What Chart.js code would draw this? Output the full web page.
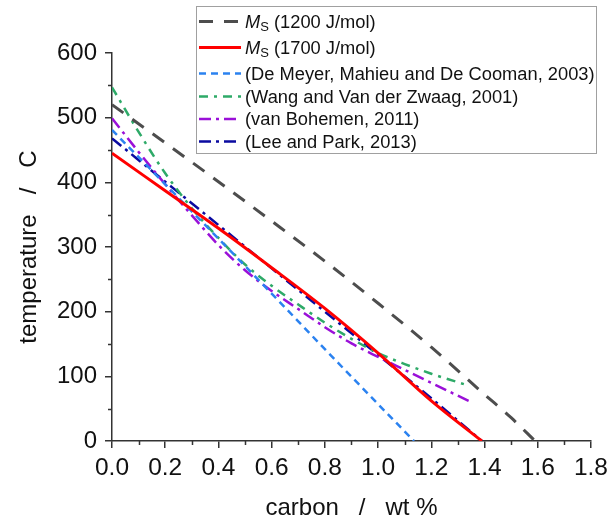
<!DOCTYPE html>
<html>
<head>
<meta charset="utf-8">
<script src="https://cdn.jsdelivr.net/npm/chart.js@4.4.1/dist/chart.umd.min.js"></script>
<style>
  html, body { margin: 0; padding: 0; background: #fff; }
  #wrap { width: 614px; height: 523px; }
</style>
</head>
<body>
<div id="wrap"><canvas id="chart" width="614" height="523"></canvas></div>
<script>
  'use strict';

  // carbon (wt %) / temperature (C)
  const ms1200C = [0, 0.2, 0.4, 0.6, 0.8, 1.0, 1.2, 1.4, 1.5, 1.59];
  const ms1200T = [520, 461, 401, 340, 278, 213, 145, 72, 36, 0];

  const ms1700C = [0, 0.2, 0.4, 0.6, 0.8, 1.0, 1.2, 1.39];
  const ms1700T = [445, 387, 329, 268, 205, 136, 62, 0];

  const deMeyerC = [0, 0.2, 0.4, 0.6, 0.8, 1.0, 1.135];
  const deMeyerT = [481, 397, 313, 228, 142, 57, 0];

  const wangC = [0, 0.1, 0.2, 0.3, 0.4, 0.5, 0.6, 0.7, 0.8, 0.9, 1.0, 1.1, 1.2, 1.33];
  const wangT = [547, 478, 414, 360, 314, 273, 240, 211, 183, 158, 136, 119, 104, 87];

  const bohemenC = [0, 0.1, 0.2, 0.3, 0.4, 0.5, 0.6, 0.7, 0.8, 0.9, 1.0, 1.1, 1.2, 1.34];
  const bohemenT = [499, 447, 397, 349, 303, 264, 232, 204, 176, 151, 130, 110, 90, 62];

  const leeParkC = [0, 0.2, 0.4, 0.6, 0.8, 1.0, 1.2, 1.39];
  const leeParkT = [468, 401, 334, 267, 200, 133, 66, 0];

  const seriesLabels = [
    'M_S (1200 J/mol)',
    'M_S (1700 J/mol)',
    '(De Meyer, Mahieu and De Cooman, 2003)',
    '(Wang and Van der Zwaag, 2001)',
    '(van Bohemen, 2011)',
    '(Lee and Park, 2013)'
  ];

  const xMinorTicks = [0.1, 0.3, 0.5, 0.7, 0.9, 1.1, 1.3, 1.5, 1.7];
  const yMinorTicks = [50, 150, 250, 350, 450, 550];

  const FONT = "'Liberation Sans', Arial, sans-serif";
  const AXIS_COLOR = '#333333';
  const TEXT_COLOR = '#111111';

  const pairs = (xs, ys) => xs.map((x, i) => ({ x, y: ys[i] }));

  function line(label, xs, ys, color, width, dash) {
    return {
      label,
      data: pairs(xs, ys),
      borderColor: color,
      backgroundColor: color,
      borderWidth: width,
      borderDash: dash,
      borderCapStyle: 'butt',
      pointRadius: 0,
      fill: false,
      cubicInterpolationMode: 'monotone'
    };
  }

  const datasets = [
    line(seriesLabels[0], ms1200C, ms1200T, '#4d4d4d', 3, [14, 11]),
    line(seriesLabels[1], ms1700C, ms1700T, '#ff0000', 3, []),
    line(seriesLabels[2], deMeyerC, deMeyerT, '#2b82f0', 2.5, [7, 5]),
    line(seriesLabels[3], wangC, wangT, '#2eaa68', 2.5, [9, 6, 3, 6]),
    line(seriesLabels[4], bohemenC, bohemenT, '#9a10d8', 2.5, [12, 5, 3, 5]),
    line(seriesLabels[5], leeParkC, leeParkT, '#0a0aa0', 2.5, [12, 5, 3, 5])
  ];

  // minor tick marks (outward, shorter than the major ones)
  const minorTicks = {
    id: 'minorTicks',
    afterDraw(chart) {
      const { ctx, chartArea } = chart;
      const { x, y } = chart.scales;
      ctx.save();
      ctx.strokeStyle = AXIS_COLOR;
      ctx.lineWidth = 1.5;
      ctx.beginPath();
      xMinorTicks.forEach(v => {
        const px = Math.round(x.getPixelForValue(v)) + 0.5;
        ctx.moveTo(px, chartArea.bottom);
        ctx.lineTo(px, chartArea.bottom + 4);
      });
      yMinorTicks.forEach(v => {
        const py = Math.round(y.getPixelForValue(v)) + 0.5;
        ctx.moveTo(chartArea.left, py);
        ctx.lineTo(chartArea.left - 4, py);
      });
      ctx.stroke();
      ctx.restore();
    }
  };

  // boxed legend with the M_S subscript
  const boxLegend = {
    id: 'boxLegend',
    afterDraw(chart) {
      const { ctx } = chart;
      const box = { left: 196.5, top: 6.5, right: 596.5, bottom: 153.5 };
      const rows = [21.5, 47.5, 73.5, 96.5, 119, 141.5];
      ctx.save();
      ctx.fillStyle = '#ffffff';
      ctx.fillRect(box.left, box.top, box.right - box.left, box.bottom - box.top);
      ctx.strokeStyle = '#a0a0a0';
      ctx.lineWidth = 1;
      ctx.strokeRect(box.left, box.top, box.right - box.left, box.bottom - box.top);

      chart.data.datasets.forEach((ds, i) => {
        const yy = rows[i];
        ctx.save();
        ctx.strokeStyle = ds.borderColor;
        ctx.lineWidth = ds.borderWidth;
        ctx.setLineDash(ds.borderDash || []);
        ctx.beginPath();
        ctx.moveTo(199, yy);
        ctx.lineTo(241, yy);
        ctx.stroke();
        ctx.restore();

        ctx.fillStyle = TEXT_COLOR;
        ctx.textBaseline = 'middle';
        ctx.textAlign = 'left';
        let tx = 245;
        let text = ds.label;
        if (text.startsWith('M_S')) {
          ctx.font = `italic 18.3px ${FONT}`;
          ctx.fillText('M', tx, yy + 1);
          tx += ctx.measureText('M').width;
          ctx.font = `13px ${FONT}`;
          ctx.fillText('S', tx, yy + 6);
          tx += ctx.measureText('S').width;
          text = text.slice(3);
        }
        ctx.font = `18.3px ${FONT}`;
        ctx.fillText(text, tx, yy + 1);
      });
      ctx.restore();
    }
  };

  new Chart(document.getElementById('chart'), {
    type: 'line',
    data: { datasets },
    plugins: [minorTicks, boxLegend],
    options: {
      responsive: false,
      animation: false,
      layout: { padding: { top: 53, right: 16, left: 0, bottom: 0 } },
      plugins: { legend: { display: false }, tooltip: { enabled: false } },
      scales: {
        x: {
          type: 'linear',
          min: 0,
          max: 1.8,
          afterFit: s => { s.height = 82; },
          border: { display: true, color: AXIS_COLOR, width: 1.5 },
          grid: { display: true, drawOnChartArea: false, drawTicks: true, tickLength: 7, color: AXIS_COLOR, lineWidth: 1.5 },
          ticks: {
            stepSize: 0.2,
            padding: 6,
            color: TEXT_COLOR,
            font: { family: FONT, size: 24.5 },
            maxRotation: 0,
            callback: v => v.toFixed(1)
          },
          title: {
            display: true,
            text: 'carbon   /   wt %',
            color: TEXT_COLOR,
            font: { family: FONT, size: 24 },
            padding: { top: 0, bottom: 0 }
          }
        },
        y: {
          type: 'linear',
          min: 0,
          max: 600,
          afterFit: s => { s.width = 112; },
          border: { display: true, color: AXIS_COLOR, width: 1.5 },
          grid: { display: true, drawOnChartArea: false, drawTicks: true, tickLength: 7, color: AXIS_COLOR, lineWidth: 1.5 },
          ticks: {
            stepSize: 100,
            padding: 8,
            color: TEXT_COLOR,
            font: { family: FONT, size: 24 }
          },
          title: {
            display: true,
            text: 'temperature   /   C',
            color: TEXT_COLOR,
            font: { family: FONT, size: 24 },
            padding: { top: 15, bottom: 0 }
          }
        }
      }
    }
  });
</script>
</body>
</html>
